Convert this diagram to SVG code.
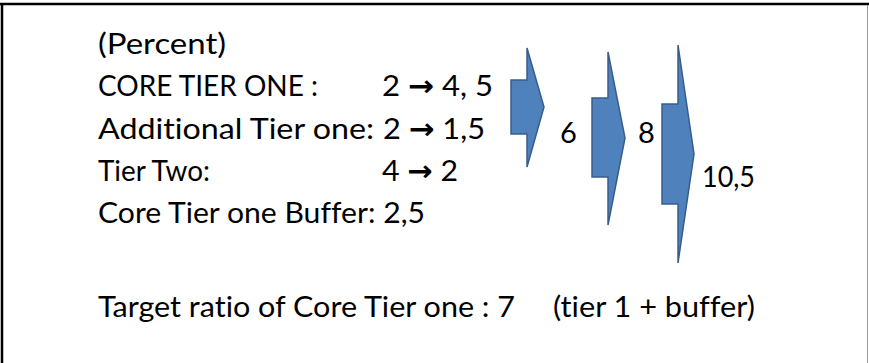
<svg xmlns="http://www.w3.org/2000/svg" width="869" height="363" viewBox="0 0 869 363">
<style>
.t{font-family:Lato,"Liberation Sans",sans-serif;font-size:29px;fill:#000;font-variant-ligatures:none;font-feature-settings:"liga" 0}
.ar{font-family:"DejaVu Sans",sans-serif;font-weight:bold}
.arr{fill:#4F81BD;stroke:#385D8A;stroke-width:1.5;stroke-linejoin:miter}
</style>
<rect x="0" y="0" width="869" height="363" fill="#fff"/>
<g id="frame">
<line x1="0" y1="4" x2="869" y2="4" stroke="#000" stroke-width="2.5"/>
<line x1="2" y1="3" x2="2" y2="363" stroke="#000" stroke-width="2.5"/>
<line x1="867.5" y1="5" x2="867.5" y2="363" stroke="#999" stroke-width="1"/>
</g>
<g id="legend">
<text class="t" x="98" y="54" textLength="128" lengthAdjust="spacingAndGlyphs">(Percent)</text>
<text class="t" x="98" y="96" textLength="220" lengthAdjust="spacingAndGlyphs">CORE TIER ONE :</text>
<text class="t" x="382" y="96" textLength="111" lengthAdjust="spacingAndGlyphs">2 <tspan class="ar">→</tspan> 4, 5</text>
<text class="t" x="98" y="139" textLength="276" lengthAdjust="spacingAndGlyphs">Additional Tier one:</text>
<text class="t" x="383" y="139" textLength="102" lengthAdjust="spacingAndGlyphs">2 <tspan class="ar">→</tspan> 1,5</text>
<text class="t" x="98" y="181" textLength="112" lengthAdjust="spacingAndGlyphs">Tier Two:</text>
<text class="t" x="382" y="181" textLength="76" lengthAdjust="spacingAndGlyphs">4 <tspan class="ar">→</tspan> 2</text>
<text class="t" x="98" y="223" textLength="327" lengthAdjust="spacingAndGlyphs">Core Tier one Buffer: 2,5</text>
<text class="t" x="98" y="317" textLength="417" lengthAdjust="spacingAndGlyphs">Target ratio of Core Tier one : 7</text>
<text class="t" x="553" y="317" textLength="202" lengthAdjust="spacingAndGlyphs">(tier 1 + buffer)</text>
</g>
<g id="arrow1">
<polygon class="arr" points="511,80 527,80 527,48 544,107 527,167 527,134 511,134"/>
</g>
<g id="label6"><text class="t" x="560" y="143">6</text></g>
<g id="arrow2">
<polygon class="arr" points="592,98 608,98 608,52 625,138 608,225 608,177 592,177"/>
</g>
<g id="label8"><text class="t" x="638" y="143">8</text></g>
<g id="arrow3">
<polygon class="arr" points="662,104 678,104 678,45 694,154 678,263 678,204 662,204"/>
</g>
<g id="label105"><text class="t" x="702" y="187" textLength="53" lengthAdjust="spacingAndGlyphs">10,5</text></g>
</svg>
